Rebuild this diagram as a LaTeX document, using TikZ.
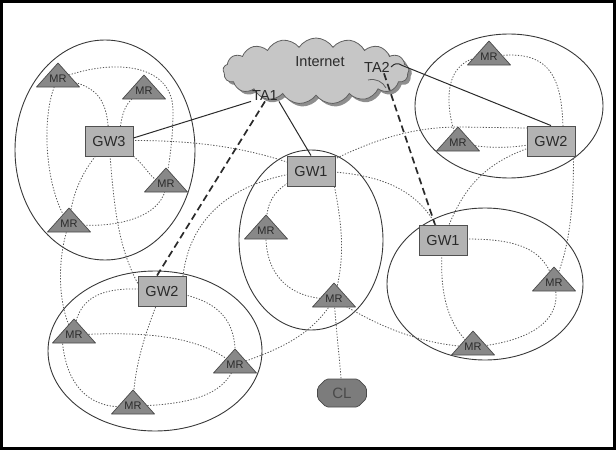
\documentclass[tikz,border=0pt]{standalone}
\usepackage{fontspec}
\setmainfont{Liberation Sans}
\usetikzlibrary{shapes.symbols,shapes.misc,shadows}
\pgfdeclarelayer{back}
\pgfsetlayers{back,main}

\definecolor{gwfill}{HTML}{B3B3B3}
\definecolor{gwline}{HTML}{505050}
\definecolor{mrfill}{HTML}{888888}
\definecolor{mrline}{HTML}{4A4A4A}
\definecolor{cloudfill}{HTML}{C6C6C6}
\definecolor{cloudline}{HTML}{606060}
\definecolor{cloudshadow}{HTML}{8E8E8E}
\definecolor{clfill}{HTML}{7C7C7C}
\definecolor{linkgray}{HTML}{555555}
\definecolor{ink}{HTML}{2A2A2A}

\tikzset{
  gw/.style={rectangle, draw=gwline, fill=gwfill, line width=0.9pt,
    minimum width=48pt, minimum height=30pt, inner sep=0pt,
    font=\fontsize{14.5}{14.5}\selectfont, text=ink, text height=10.4pt, text depth=0pt},
  mrtri/.style={draw=mrline, fill=mrfill, line width=0.7pt, line join=round},
  mrlabel/.style={rectangle, inner sep=0pt, minimum width=30pt, minimum height=14pt,
    font=\fontsize{11}{11}\selectfont, text=ink, text height=7.9pt, text depth=0pt},
  talabel/.style={inner sep=1pt, font=\fontsize{14.5}{14.5}\selectfont, text=ink,
    text height=10.4pt, text depth=0pt},
  cluster/.style={draw=black!78, line width=0.9pt},
  link/.style={draw=linkgray, line width=0.8pt, dash pattern=on 1.3pt off 1.6pt},
  wired/.style={draw=ink, line width=1pt},
  tunnel/.style={draw=ink, line width=1.7pt, dash pattern=on 7pt off 4pt},
  client/.style={chamfered rectangle, chamfered rectangle xsep=5pt,
    draw=mrline, fill=clfill, line width=0.7pt, rounded corners=2pt,
    minimum width=49pt, minimum height=28pt, inner sep=0pt,
    font=\fontsize{15}{15}\selectfont, text=ink!85, text height=10.7pt, text depth=0pt},
}

% mesh router: triangle with its label node
\newcommand\meshrouter[3]{%
  \filldraw[mrtri] (#2-21.5,#3+12) -- (#2+21.5,#3+12) -- (#2,#3-12) -- cycle;
  \node[mrlabel] (#1) at (#2,#3+4) {MR};}

\begin{document}
\begin{tikzpicture}[x=1pt,y=-1pt]
\useasboundingbox (0,0) rectangle (616,450);

% the Internet cloud with its access points
\node[cloud, cloud puffs=17, cloud puff arc=115, aspect=2.8,
  minimum width=186pt, minimum height=66pt, inner sep=0pt,
  draw=cloudline, fill=cloudfill, line width=0.8pt,
  drop shadow={shadow xshift=3pt, shadow yshift=-3pt, fill=cloudshadow, opacity=1}]
  (net) at (316,71) {};
\draw[cloudline, line width=0.8pt] (368,80) .. controls (376,78) and (383,82) .. (386,88);
\node[talabel] (inet) at (320,61) {Internet};
\node[talabel] (ta1) at (265,95) {TA1};
\node[talabel] (ta2) at (377,67) {TA2};

% gateways
\node[gw] (g3)  at (109,141) {GW3};
\node[gw] (g1)  at (311,171) {GW1};
\node[gw] (g2)  at (551,141) {GW2};
\node[gw] (g1r) at (443,240) {GW1};
\node[gw] (g2b) at (162,291) {GW2};

% mesh routers
\meshrouter{m1}{58}{75}
\meshrouter{m2}{144}{87}
\meshrouter{m3}{166}{180}
\meshrouter{m4}{69}{220}
\meshrouter{m5}{489}{53}
\meshrouter{m6}{458}{139}
\meshrouter{m7}{266}{227}
\meshrouter{m8}{334}{295}
\meshrouter{m9}{554}{279}
\meshrouter{m10}{473}{343}
\meshrouter{m11}{74}{331}
\meshrouter{m12}{235}{361}
\meshrouter{m13}{133}{402}

% client
\node[client] (cl) at (342,393) {CL};

\begin{pgfonlayer}{back}
% cluster outlines
\draw[cluster] (105,150) ellipse [x radius=90, y radius=110];
\draw[cluster] (509,106) ellipse [x radius=94, y radius=72];
\draw[cluster] (311,240) ellipse [x radius=72, y radius=90];
\draw[cluster] (485,284) ellipse [x radius=98, y radius=76];
\draw[cluster] (155,351) ellipse [x radius=107, y radius=80];

% wireless links, upper left cluster
\draw[link] (m1.center) .. controls (110,58) and (172,62) .. (173,110)
  .. controls (173,140) and (170,155) .. (m3.center);
\draw[link] (m1.center) .. controls (40,110) and (44,190) .. (m4.center);
\draw[link] (m1.center) .. controls (100,85) and (108,100) .. (g3.center);
\draw[link] (m2.center) .. controls (125,100) and (121,112) .. ([xshift=10pt]g3.center);
\draw[link] (g3.center) .. controls (200,138) and (260,150) .. (g1.center);
\draw[link] (g3.center) .. controls (85,165) and (72,190) .. (m4.center);
\draw[link] (g3.center) .. controls (150,160) and (145,180) .. (m3.center);
\draw[link] (g3.center) .. controls (114,210) and (118,250) .. ([xshift=-20pt]g2b.center);
\draw[link] (m4.center) .. controls (120,230) and (165,215) .. (m3.center);
\draw[link] (m4.center) .. controls (56,260) and (58,310) .. (m11.center);

% wireless links, middle cluster
\draw[link] (g1.center) .. controls (225,180) and (183,225) .. ([xshift=20pt]g2b.center);
\draw[link] (g1.center) .. controls (370,140) and (410,127) .. (460,127) -- ([yshift=13pt]g2.west);
\draw[link] (m6.center) .. controls (495,150) and (515,148) .. (g2.center);
\draw[link] (g1.center) .. controls (390,172) and (425,195) .. (g1r.center);
\draw[link] ([xshift=-1pt]g1.south east) .. controls (343,230) and (345,260) .. (m8.center);
\draw[link] (g1.center) .. controls (272,188) and (266,200) .. (m7.center);
\draw[link] (m7.center) .. controls (264,275) and (290,300) .. (m8.center);
\draw[link] (m8.center) .. controls (337,340) and (340,360) .. (cl.center);
\draw[link] (m12.center) .. controls (270,352) and (310,340) .. (m8.center);
\draw[link] (m8.center) .. controls (375,325) and (420,345) .. (m10.center);

% wireless links, lower left cluster
\draw[link] (g2b.center) .. controls (100,283) and (76,298) .. (m11.center);
\draw[link] (g2b.center) .. controls (230,298) and (237,330) .. (m12.center);
\draw[link] (g2b.center) .. controls (142,340) and (134,370) .. (m13.center);
\draw[link] ([xshift=-12pt]m11.center) .. controls (64,385) and (90,412) .. (m13.center);
\draw[link] (m12.center) .. controls (225,395) and (190,405) .. (m13.center);
\draw[link] (m11.center) .. controls (160,330) and (205,340) .. (m12.center);

% wireless links, right clusters
\draw[link] (m5.center) .. controls (550,47) and (564,75) .. ([xshift=12pt]g2.center);
\draw[link] (m5.center) .. controls (448,55) and (440,95) .. (m6.center);
\draw[link] ([xshift=22pt]g2.center) .. controls (575,200) and (570,250) .. (m9.center);
\draw[link] (g2.center) .. controls (480,160) and (462,190) .. (g1r.center);
\draw[link] (g1r.center) .. controls (520,235) and (545,250) .. (m9.center);
\draw[link] (g1r.center) .. controls (437,300) and (452,330) .. (m10.center);
\draw[link] (m9.center) .. controls (565,320) and (530,342) .. (m10.center);
\end{pgfonlayer}

% wired uplinks
\draw[wired] ([yshift=3pt]g3.east) -- (ta1.south west);
\draw[wired] (ta1.south east) -- (g1.north);
\draw[wired] (ta2.east) .. controls (398,60) and (401,66) .. (406,67) -- (g2.north);

% tunnels
\draw[tunnel] (ta1.south) -- ([xshift=-5pt]g2b.north);
\draw[tunnel] ([xshift=7pt]ta2.south) -- ([xshift=-8pt]g1r.north);

% frame
\draw[line width=2.4pt] (1.5,1.5) rectangle (614.5,448.5);
\end{tikzpicture}
\end{document}
